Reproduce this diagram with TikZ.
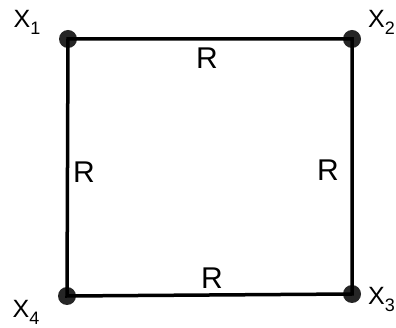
\documentclass[tikz,border=0pt]{standalone}
\usepackage{fontspec}
\setmainfont{Liberation Sans}
\newcommand{\subx}[1]{\raisebox{-7pt}{\fontsize{18}{20}\selectfont #1}}
\begin{document}
\begin{tikzpicture}[x=1pt,y=-1pt,
  edge/.style={line width=3.5pt,line cap=round},
  dot/.style={circle,fill=black!85,inner sep=0pt,minimum size=18pt},
  lbl/.style={font=\fontsize{25}{27}\selectfont,inner sep=0pt},
  rlbl/.style={font=\fontsize{30}{32}\selectfont,inner sep=0pt}]
\useasboundingbox (0,0) rectangle (396,328);
\node[dot] (x1) at (68,39) {};
\node[dot] (x2) at (352,39) {};
\node[dot] (x3) at (352,294) {};
\node[dot] (x4) at (67,296) {};
\draw[edge] (x1.center) -- (x2.center) -- (x3.center) -- (x4.center) -- cycle;
\node[lbl] (l1) at (27,22) {X\subx{1}};
\node[lbl,anchor=east] (l2) at (395,22) {X\subx{2}};
\node[lbl,anchor=east] (l3) at (395,299) {X\subx{3}};
\node[lbl] (l4) at (26,312) {X\subx{4}};
\node[rlbl] (r1) at (207,58) {R};
\node[rlbl] (r2) at (84,172) {R};
\node[rlbl] (r3) at (328,170) {R};
\node[rlbl] (r4) at (212,278) {R};
\end{tikzpicture}
\end{document}
